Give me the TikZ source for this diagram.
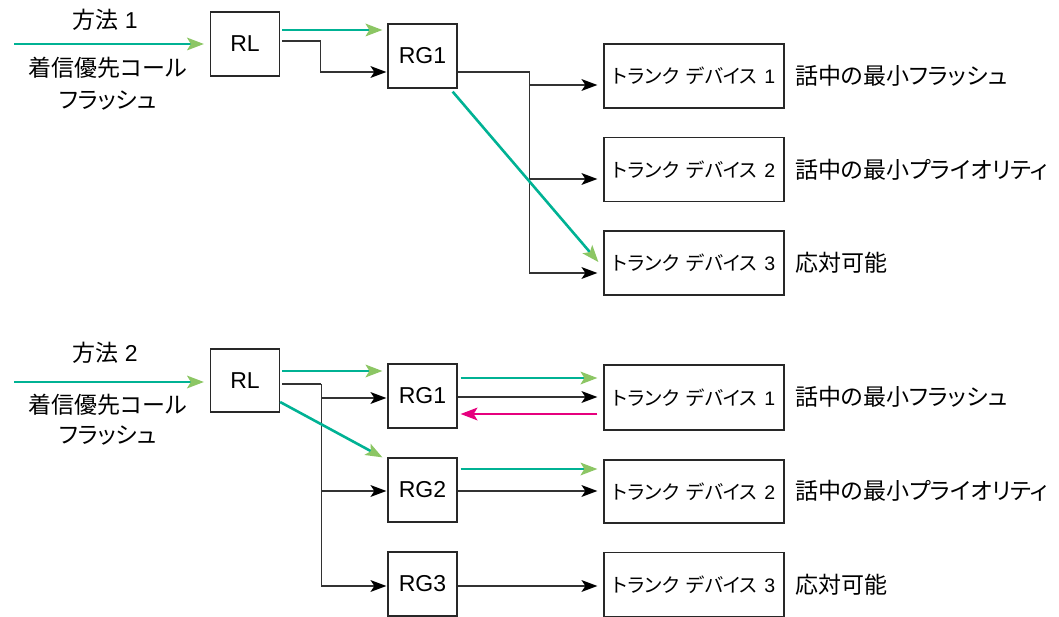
\documentclass[tikz,border=0pt]{standalone}
\usepackage{fontspec}
\setmainfont{Liberation Sans}
\newfontfamily\jp[RawFeature=+palt]{Noto Sans CJK JP}
\usetikzlibrary{arrows.meta,calc}
\definecolor{boxgray}{RGB}{40,40,40}
\definecolor{linegray}{RGB}{50,50,50}
\definecolor{teal1}{RGB}{0,178,148}
\definecolor{tipgreen}{RGB}{140,198,100}
\definecolor{pink1}{RGB}{230,0,126}
\newcommand{\trk}[1]{{\jp トランク}\hspace{7pt}{\jp デバイス}\hspace{7pt}#1}
\newcommand{\low}[1]{\raisebox{-3pt}{#1}}
\begin{document}
\begin{tikzpicture}[x=1pt,y=-1pt,
 box/.style={draw=boxgray,line width=1.3pt,fill=white,inner sep=0pt},
 rbox/.style={box,minimum width=69pt,minimum height=64pt,font=\fontsize{23}{26}\selectfont},
 tbox/.style={box,minimum width=180pt,minimum height=64pt,font=\fontsize{19.5}{23}\selectfont},
 lab/.style={anchor=west,inner sep=0pt,font=\jp\fontsize{23}{27}\selectfont},
 ltxt/.style={inner sep=0pt,font=\fontsize{23}{27}\selectfont},
 plain/.style={line width=1.3pt,draw=linegray},
 conn/.style={plain,-{Stealth[length=16pt,width=12pt,inset=4pt,line width=0pt,color=black]}},
 garrow/.style={line width=2.6pt,draw=teal1,-{Stealth[length=17pt,width=13pt,inset=4pt,line width=0pt,color=tipgreen]}},
 parrow/.style={line width=2.6pt,draw=pink1,-{Stealth[length=17pt,width=13pt,inset=4pt,line width=0pt,color=pink1]}},
]
\useasboundingbox (0,0) rectangle (1059,617);

% ---------- method 1 ----------
\node[ltxt] (m1) at (105,20) {{\jp 方法} 1};
\node[ltxt] (c1) at (108,68) {\jp 着信優先コール};
\node[ltxt] (f1) at (108,101) {\jp フラッシュ};
\coordinate (s1) at (14,44);

\node[rbox] (RLa) at (245,44) {\low{RL}};
\node[rbox] (RGa) at (422.5,56) {\low{RG1}};
\node[tbox] (Ta) at (694,76) {\trk{1}};
\node[tbox] (Tb) at (694,169.5) {\trk{2}};
\node[tbox] (Tc) at (694,263) {\trk{3}};
\node[lab] (La) at (795,76) {話中の最小フラッシュ};
\node[lab] (Lb) at (795,170) {話中の最小プライオリティ};
\node[lab] (Lc) at (795,263) {応対可能};

\draw[garrow,shorten >=6pt] (s1) -- (RLa.west);
\draw[garrow] ([xshift=2pt,yshift=14pt]RLa.east) -- ([xshift=-5pt,yshift=26pt]RGa.west);
\draw[conn] ([xshift=2pt,yshift=3pt]RLa.east) -- ++(38,0) |- ([xshift=-1pt,yshift=-16pt]RGa.west);
\coordinate (ja) at ([xshift=72pt,yshift=-16pt]RGa.east);
\draw[plain] ([yshift=-16pt]RGa.east) -- (ja);
\draw[conn,shorten >=6pt] (ja) |- ([yshift=-9pt]Ta.west);
\draw[conn,shorten >=6pt] (ja) |- ([yshift=-9.5pt]Tb.west);
\draw[conn,shorten >=6pt] (ja) |- ([yshift=-10pt]Tc.west);
\draw[garrow] ([xshift=-5pt,yshift=-3pt]RGa.south east) -- ([xshift=-5pt,yshift=1pt]Tc.west);

% ---------- method 2 ----------
\node[ltxt] (m2) at (105,353) {{\jp 方法} 2};
\node[ltxt] (c2) at (108,405) {\jp 着信優先コール};
\node[ltxt] (f2) at (108,436) {\jp フラッシュ};
\coordinate (s2) at (14,382);

\node[rbox,minimum height=63pt] (RLb) at (245,380.5) {\low{RL}};
\node[rbox] (RG1) at (422.5,396) {\low{RG1}};
\node[rbox] (RG2) at (422.5,490) {\low{RG2}};
\node[rbox] (RG3) at (422.5,584) {\low{RG3}};
\node[tbox,minimum height=65pt] (Td) at (694,397.5) {\trk{1}};
\node[tbox,minimum height=63pt] (Te) at (694,491.5) {\trk{2}};
\node[tbox] (Tf) at (694,584.5) {\trk{3}};
\node[lab] (Ld) at (795,397) {話中の最小フラッシュ};
\node[lab] (Le) at (795,491) {話中の最小プライオリティ};
\node[lab] (Lf) at (795,585) {応対可能};

\draw[garrow,shorten >=6pt] (s2) -- ([yshift=-1.5pt]RLb.west);
\draw[garrow] ([xshift=2pt,yshift=9.5pt]RLb.east) -- ([xshift=-5pt,yshift=25pt]RG1.west);
\draw[plain] ([xshift=2pt,yshift=-3.5pt]RLb.east) -- ++(39,0) coordinate (jb);
\draw[conn,shorten >=1pt] (jb) |- ([yshift=-2pt]RG1.west);
\draw[conn,shorten >=1pt] (jb) |- ([yshift=-1pt]RG2.west);
\draw[conn,shorten >=1pt] (jb) |- ([yshift=-2pt]RG3.west);
\draw[garrow] ([yshift=-21.5pt]RLb.east) -- ([xshift=-5pt]RG2.north west);

\draw[garrow] ([xshift=3pt,yshift=18pt]RG1.east) -- ([xshift=-6pt,yshift=19.5pt]Td.west);
\draw[conn,shorten >=6pt] ([yshift=-1pt]RG1.east) -- ([yshift=0.5pt]Td.west);
\draw[parrow] ([xshift=-6pt,yshift=-16.5pt]Td.west) -- ([xshift=3pt,yshift=-18pt]RG1.east);

\draw[garrow] ([xshift=3pt,yshift=21pt]RG2.east) -- ([xshift=-6pt,yshift=22.5pt]Te.west);
\draw[conn,shorten >=6pt] ([yshift=-1pt]RG2.east) -- ([yshift=0.5pt]Te.west);

\draw[conn,shorten >=6pt] ([yshift=-2pt]RG3.east) -- ([yshift=-1.5pt]Tf.west);
\end{tikzpicture}
\end{document}
